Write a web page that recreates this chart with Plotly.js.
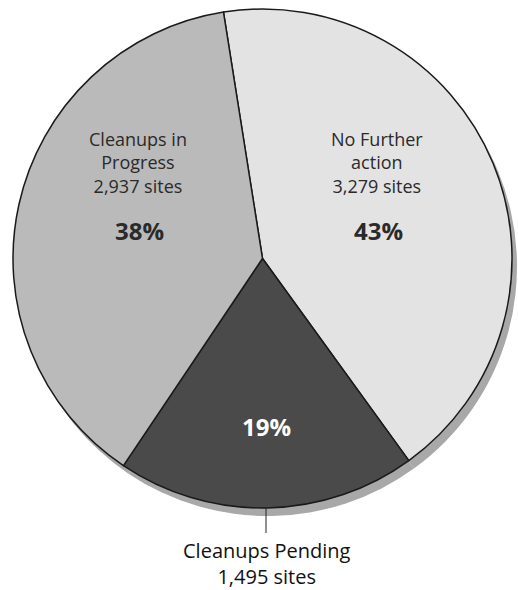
<!DOCTYPE html>
<html>
<head>
<meta charset="utf-8">
<script src="https://cdn.plot.ly/plotly-3.0.1.min.js"></script>
<style>html,body{margin:0;padding:0;background:#fff;}</style>
</head>
<body>
<div id="chart" style="width:518px;height:590px;"></div>
<script>
const categories = ["No Further action", "Cleanups Pending", "Cleanups in Progress"];
const labelLines = [["No Further", "action"], ["Cleanups Pending"], ["Cleanups in", "Progress"]];
const sites = [3279, 1495, 2937];
const sliceColors = ["#e3e3e3", "#4a4a4a", "#bababa"];

const W = 518, H = 590;
const px = x => x / W;
const py = y => 1 - y / H;

const domain = {x: [px(12), px(513)], y: [py(508), py(9)]};
const shadowDomain = {x: [px(17), px(518)], y: [py(516), py(17)]};

const total = sites.reduce((a, b) => a + b, 0);
const pct = sites.map(v => Math.round(v / total * 100) + "%");
const fmt = v => v.toLocaleString("en-US");

const base = {
  type: "pie",
  labels: categories,
  values: sites,
  sort: false,
  direction: "clockwise",
  rotation: -9,
  hoverinfo: "skip",
  textinfo: "none",
  showlegend: false
};

const shadowPie = Object.assign({}, base, {
  domain: shadowDomain,
  marker: {colors: ["#a8a8a8", "#a8a8a8", "#a8a8a8"], line: {width: 0}}
});

const mainPie = Object.assign({}, base, {
  domain: domain,
  marker: {colors: sliceColors, line: {color: "#1a1a1a", width: 1.5}}
});

const F = "Open Sans, sans-serif";
const annotations = [
  // No Further action
  {x: px(377), y: py(162), text: labelLines[0].join("<br>") + "<br>" + fmt(sites[0]) + " sites",
   font: {family: F, size: 18, color: "#2a2a2a"}},
  {x: px(378), y: py(231), text: "<b>" + pct[0] + "</b>", font: {family: F, size: 24, color: "#2a2a2a"}},
  // Cleanups in Progress
  {x: px(138), y: py(162), text: labelLines[2].join("<br>") + "<br>" + fmt(sites[2]) + " sites",
   font: {family: F, size: 18, color: "#2a2a2a"}},
  {x: px(139), y: py(231), text: "<b>" + pct[2] + "</b>", font: {family: F, size: 24, color: "#2a2a2a"}},
  // Cleanups Pending
  {x: px(266), y: py(426), text: "<b>" + pct[1] + "</b>", font: {family: F, size: 24, color: "#ffffff"}},
  {x: px(267), y: py(563), text: labelLines[1].join("<br>") + "<br>" + fmt(sites[1]) + " sites",
   font: {family: F, size: 20, color: "#111111"}}
].map(a => Object.assign({xref: "paper", yref: "paper", showarrow: false, xanchor: "center", yanchor: "middle"}, a));

Plotly.newPlot("chart", [shadowPie, mainPie], {
  width: W, height: H,
  margin: {l: 0, r: 0, t: 0, b: 0},
  paper_bgcolor: "#ffffff",
  showlegend: false,
  annotations: annotations,
  shapes: [{type: "line", xref: "paper", yref: "paper", x0: px(266), x1: px(266), y0: py(508), y1: py(533),
            line: {color: "#222", width: 1}}]
}, {staticPlot: true});
</script>
</body>
</html>
